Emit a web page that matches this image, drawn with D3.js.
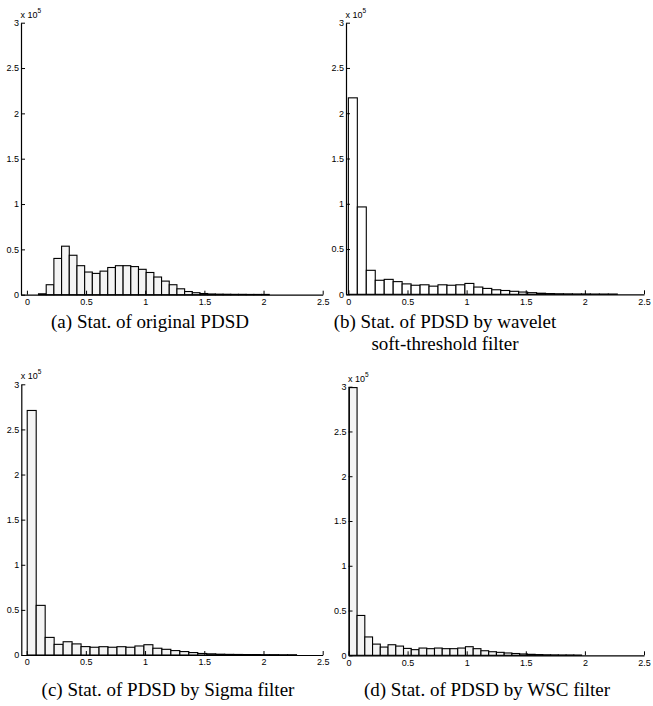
<!DOCTYPE html>
<html>
<head>
<meta charset="utf-8">
<script src="https://cdn.jsdelivr.net/npm/d3@7"></script>
<style>
  body { margin: 0; background: #fff; }
  .tick text { font-family: "Liberation Sans Narrow", "Arial Narrow", "Liberation Sans", sans-serif; font-size: 9px; fill: #000; }
  .caption { font-family: "Times New Roman", "Liberation Serif", Times, "DejaVu Serif", serif; font-size: 19px; fill: #000; }
  .expo { font-family: "Liberation Sans Narrow", "Arial Narrow", "Liberation Sans", sans-serif; fill: #000; }
</style>
</head>
<body>
<div class="chart"></div>
<script>
// histogram counts, in units of 1e5, 30 bins per panel
var countsA = [0.01, 0.11, 0.40, 0.535, 0.435, 0.32, 0.25, 0.235, 0.26, 0.30,
  0.32, 0.32, 0.31, 0.28, 0.245, 0.195, 0.15, 0.11, 0.065, 0.035,
  0.022, 0.013, 0.008, 0.006, 0.005, 0.004, 0.004, 0.003, 0.003, 0.003];
var countsB = [2.17, 0.965, 0.265, 0.155, 0.165, 0.14, 0.115, 0.1, 0.105, 0.09,
  0.105, 0.1, 0.105, 0.12, 0.08, 0.065, 0.05, 0.042, 0.033, 0.025,
  0.018, 0.012, 0.008, 0.006, 0.005, 0.004, 0.004, 0.003, 0.003, 0.003];
var countsC = [2.71, 0.55, 0.195, 0.118, 0.147, 0.123, 0.093, 0.086, 0.092, 0.086,
  0.092, 0.086, 0.1, 0.114, 0.075, 0.063, 0.049, 0.038, 0.027, 0.017,
  0.013, 0.009, 0.007, 0.006, 0.005, 0.005, 0.004, 0.004, 0.003, 0.003];
var countsD = [2.99, 0.445, 0.205, 0.125, 0.092, 0.118, 0.103, 0.077, 0.063, 0.081,
  0.074, 0.081, 0.074, 0.074, 0.081, 0.096, 0.074, 0.051, 0.04, 0.033,
  0.026, 0.02, 0.015, 0.011, 0.008, 0.006, 0.005, 0.004, 0.004, 0.003];

// first bin edge and bin width for each panel (a, b, c, d)
var binStart = [0.098, 0.0, 0.005, 0.007];
var binWidth = [0.065, 0.0758, 0.0758, 0.0655];

var xTicks = [0, 0.5, 1, 1.5, 2, 2.5];
var yTicks = [0, 0.5, 1, 1.5, 2, 2.5, 3];

var captions = [
  ["(a) Stat. of original PDSD"],
  ["(b) Stat. of PDSD by wavelet", "soft-threshold filter"],
  ["(c) Stat. of PDSD by Sigma filter"],
  ["(d) Stat. of PDSD by WSC filter"]
];

// where each panel sits on the page
var panels = [
  { counts: countsA, fill: "#f4f4f4", xMin: -0.05, left: 21, right: 322.7, top: 22.7, bottom: 294.7,
    cap: [[150, 328]] },
  { counts: countsB, fill: "#ffffff", xMin: -0.02, left: 346, right: 644, top: 22.7, bottom: 294.3,
    cap: [[445, 328], [445, 350]] },
  { counts: countsC, fill: "#f4f4f4", xMin: -0.045, left: 21.3, right: 322.7, top: 384.3, bottom: 655,
    cap: [[168, 696]] },
  { counts: countsD, fill: "#f4f4f4", xMin: 0, left: 348.5, right: 644, top: 386.7, bottom: 655.3,
    cap: [[487, 696]] }
];

var svg = d3.select(".chart")
  .append("svg")
  .attr("width", 653)
  .attr("height", 706);

function drawPanel(p, i) {
  var x = d3.scaleLinear().domain([p.xMin, 2.5]).range([p.left, p.right]);
  var y = d3.scaleLinear().domain([0, 3]).range([p.bottom, p.top]);

  var g = svg.append("g");

  // bars
  g.selectAll("rect")
    .data(p.counts)
    .enter()
    .append("rect")
    .attr("x", (d, k) => x(binStart[i] + k * binWidth[i]))
    .attr("width", (d, k) => x(binStart[i] + (k + 1) * binWidth[i]) - x(binStart[i] + k * binWidth[i]))
    .attr("y", d => y(d))
    .attr("height", d => y(0) - y(d))
    .attr("fill", p.fill)
    .attr("stroke", "#000")
    .attr("stroke-width", 1.1);

  // axes, matlab style ticks pointing inward
  var xAxis = g.append("g")
    .attr("transform", `translate(0, ${p.bottom})`)
    .call(d3.axisBottom(x).tickValues(xTicks).tickSizeInner(-4).tickSizeOuter(0).tickPadding(4)
      .tickFormat(d3.format("")));
  var yAxis = g.append("g")
    .attr("transform", `translate(${p.left}, 0)`)
    .call(d3.axisLeft(y).tickValues(yTicks).tickSizeInner(-4).tickSizeOuter(0).tickPadding(2)
      .tickFormat(d3.format("")));

  [xAxis, yAxis].forEach(function(a) {
    a.select(".domain").attr("stroke", "#000").attr("stroke-width", 1.2);
    a.selectAll(".tick line").attr("stroke", "#000");
  });

  // x 10^5 multiplier
  var ex = g.append("text")
    .attr("class", "expo")
    .attr("x", p.left - 0.5)
    .attr("y", p.top - 5)
    .attr("font-size", 9);
  ex.append("tspan").text("x 10");
  ex.append("tspan").attr("dy", -5).attr("font-size", 6.5).text("5");

  // caption
  captions[i].forEach(function(line, j) {
    g.append("text")
      .attr("class", "caption")
      .attr("x", p.cap[j][0])
      .attr("y", p.cap[j][1])
      .attr("text-anchor", "middle")
      .text(line);
  });
}

panels.forEach(drawPanel);
</script>
</body>
</html>
